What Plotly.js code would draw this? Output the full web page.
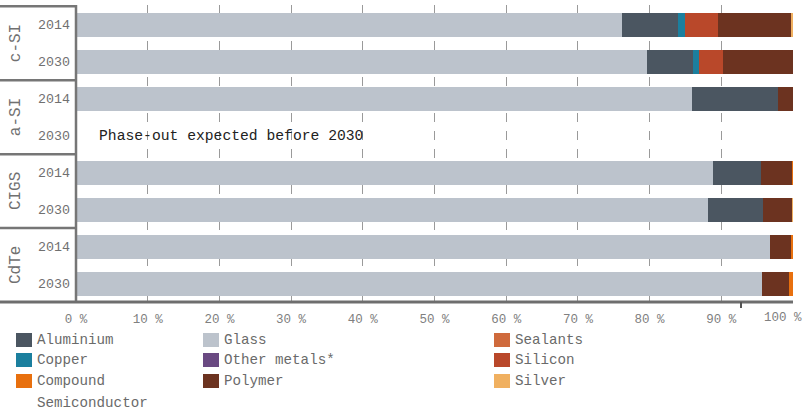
<!DOCTYPE html>
<html>
<head>
<meta charset="utf-8">
<script src="https://cdn.plot.ly/plotly-3.0.1.min.js"></script>
<style>html,body{margin:0;padding:0;background:#fff;}#chart{width:810px;height:413px;}</style>
</head>
<body>
<div id="chart"></div>
<script>
// ---- data ----
var rows = ["c-SI 2014","c-SI 2030","a-SI 2014","a-SI 2030","CIGS 2014","CIGS 2030","CdTe 2014","CdTe 2030"];
var yearLabels = ["2014","2030","2014","2030","2014","2030","2014","2030"];
var groups = ["c-SI","a-SI","CIGS","CdTe"];
var glass     = [76.2, 79.6, 85.9, null, 88.8, 88.1, 96.8, 95.7];
var aluminium = [7.7, 6.4, 12.0, null, 6.7, 7.7, 0, 0];
var copper    = [1.0, 0.9, 0, null, 0, 0, 0, 0];
var sealants  = [0, 0, 0, null, 0, 0, 0, 0];
var silicon   = [4.6, 3.3, 0, null, 0, 0, 0, 0];
var otherMet  = [0, 0, 0, null, 0, 0, 0, 0];
var polymer   = [10.2, 9.8, 2.1, null, 4.3, 4.0, 2.9, 3.7];
var compound  = [0, 0, 0, null, 0.2, 0, 0.3, 0.6];
var silver    = [0.3, 0, 0, null, 0, 0.2, 0, 0];
var xTicks = [0,10,20,30,40,50,60,70,80,90,100];
var xTickLabels = ["0 %","10 %","20 %","30 %","40 %","50 %","60 %","70 %","80 %","90 %","100 %"];
var note = "Phase-out expected before 2030";

var seriesNames  = ["Glass","Aluminium","Copper","Sealants","Silicon","Other metals*","Polymer","Compound Semiconductor","Silver"];
var seriesValues = [glass, aluminium, copper, sealants, silicon, otherMet, polymer, compound, silver];
var seriesColors = ["#bcc3cc","#4b5661","#1b7f9e","#cf6a3c","#b9482a","#6a4a82","#6c3320","#e8700e","#f0b060"];

// legend layout: columns of names
var legendCols = [
  ["Aluminium","Copper","Compound Semiconductor"],
  ["Glass","Other metals*","Polymer"],
  ["Sealants","Silicon","Silver"]
];

// ---- geometry ----
var W = 810, H = 413, ML = 76, MR = 17, MT = 5, MB = 111;
var PW = W - ML - MR, PH = H - MT - MB;
function px2x(px){ return (px - ML) / PW; }
function py2y(py){ return (H - MB - py) / PH; }
var mono = "Liberation Mono, DejaVu Sans Mono, monospace";
var tickFont = {family: mono, size: 12.5, color: "#808080"};

var traces = seriesNames.map(function(n, i){
  return {
    type: "bar", orientation: "h", name: n,
    y: rows, x: seriesValues[i],
    marker: {color: seriesColors[i], line: {width: 0}},
    hoverinfo: "x+name", showlegend: false
  };
});

var shapes = [];
var lineCol = "#767676";
// left label area lines
[-0.5, 1.5, 3.5, 5.5].forEach(function(v){
  shapes.push({type:"line", xref:"paper", yref:"y", x0:px2x(0), x1:0, y0:v, y1:v, line:{color:lineCol, width:2.5}});
});
// vertical axis line
shapes.push({type:"line", xref:"paper", yref:"paper", x0:0, x1:0, y0:0, y1:1, line:{color:lineCol, width:2.5}});
// bottom axis line
shapes.push({type:"line", xref:"paper", yref:"paper", x0:px2x(0), x1:1, y0:0, y1:0, line:{color:"#6e6e6e", width:3}});
// small stray tick below axis
shapes.push({type:"line", xref:"paper", yref:"paper", x0:px2x(741), x1:px2x(741), y0:0, y1:py2y(308), line:{color:"#555", width:2}});

var annotations = [];
groups.forEach(function(g, i){
  annotations.push({xref:"paper", yref:"y", x:px2x(16), y:i*2+0.5, text:g, showarrow:false,
    textangle:-90, xanchor:"center", yanchor:"middle", font:{family:mono, size:16, color:"#707070"}});
});
annotations.push({xref:"paper", yref:"y", x:px2x(97), y:3, text:note, showarrow:false,
  xanchor:"left", yanchor:"middle", font:{family:mono, size:14.7, color:"#222"}});

// last x tick label: shifted inwards so it stays inside the picture (as in the reference)
var lastIdx = xTicks.length - 1;
annotations.push({xref:"x", yref:"paper", x:xTicks[lastIdx], y:py2y(318), text:xTickLabels[lastIdx], showarrow:false,
  xanchor:"right", yanchor:"middle", xshift:11, font:tickFont});
var axisTickText = xTickLabels.map(function(t, i){ return i === lastIdx ? "" : t; });

// legend (manual)
var colX = [16, 203, 494];
var rowY = [340, 360, 381];
legendCols.forEach(function(col, ci){
  col.forEach(function(name, ri){
    var idx = seriesNames.indexOf(name);
    var cx = colX[ci], cy = rowY[ri];
    shapes.push({type:"rect", xref:"paper", yref:"paper",
      x0:px2x(cx), x1:px2x(cx+16), y0:py2y(cy+7), y1:py2y(cy-7),
      fillcolor:seriesColors[idx], line:{width:0}});
    var parts = name.split(" ");
    if (parts.length > 1 && name.indexOf("Semiconductor") >= 0) {
      annotations.push({xref:"paper", yref:"paper", x:px2x(cx+19), y:py2y(cy), text:parts[0], showarrow:false,
        xanchor:"left", yanchor:"middle", font:{family:mono, size:14.2, color:"#6a6a6a"}});
      annotations.push({xref:"paper", yref:"paper", x:px2x(cx+19), y:py2y(cy+22), text:parts[1], showarrow:false,
        xanchor:"left", yanchor:"middle", font:{family:mono, size:14.2, color:"#6a6a6a"}});
    } else {
      annotations.push({xref:"paper", yref:"paper", x:px2x(cx+19), y:py2y(cy), text:name, showarrow:false,
        xanchor:"left", yanchor:"middle", font:{family:mono, size:14.2, color:"#6a6a6a"}});
    }
  });
});

var layout = {
  width: W, height: H,
  margin: {l: ML, r: MR, t: MT, b: MB, pad: 0},
  paper_bgcolor: "#ffffff", plot_bgcolor: "#ffffff",
  barmode: "stack", bargap: 0.35,
  showlegend: false,
  xaxis: {
    range: [0, 100], tickmode: "array", tickvals: xTicks, ticktext: axisTickText,
    showgrid: true, gridcolor: "#9a9a9a", gridwidth: 1, griddash: "dash",
    zeroline: false, showline: false, ticks: "",
    ticklabelstandoff: 7, ticklabeloverflow: "allow",
    tickfont: tickFont, fixedrange: true
  },
  yaxis: {
    type: "category", categoryorder: "array", categoryarray: rows,
    autorange: "reversed",
    tickvals: rows, ticktext: yearLabels,
    showgrid: false, zeroline: false, showline: false, ticks: "",
    ticklabelstandoff: 5,
    tickfont: {family: mono, size: 13.3, color: "#707070"}, fixedrange: true
  },
  shapes: shapes,
  annotations: annotations
};

Plotly.newPlot("chart", traces, layout, {displayModeBar: false, staticPlot: true});
</script>
</body>
</html>
